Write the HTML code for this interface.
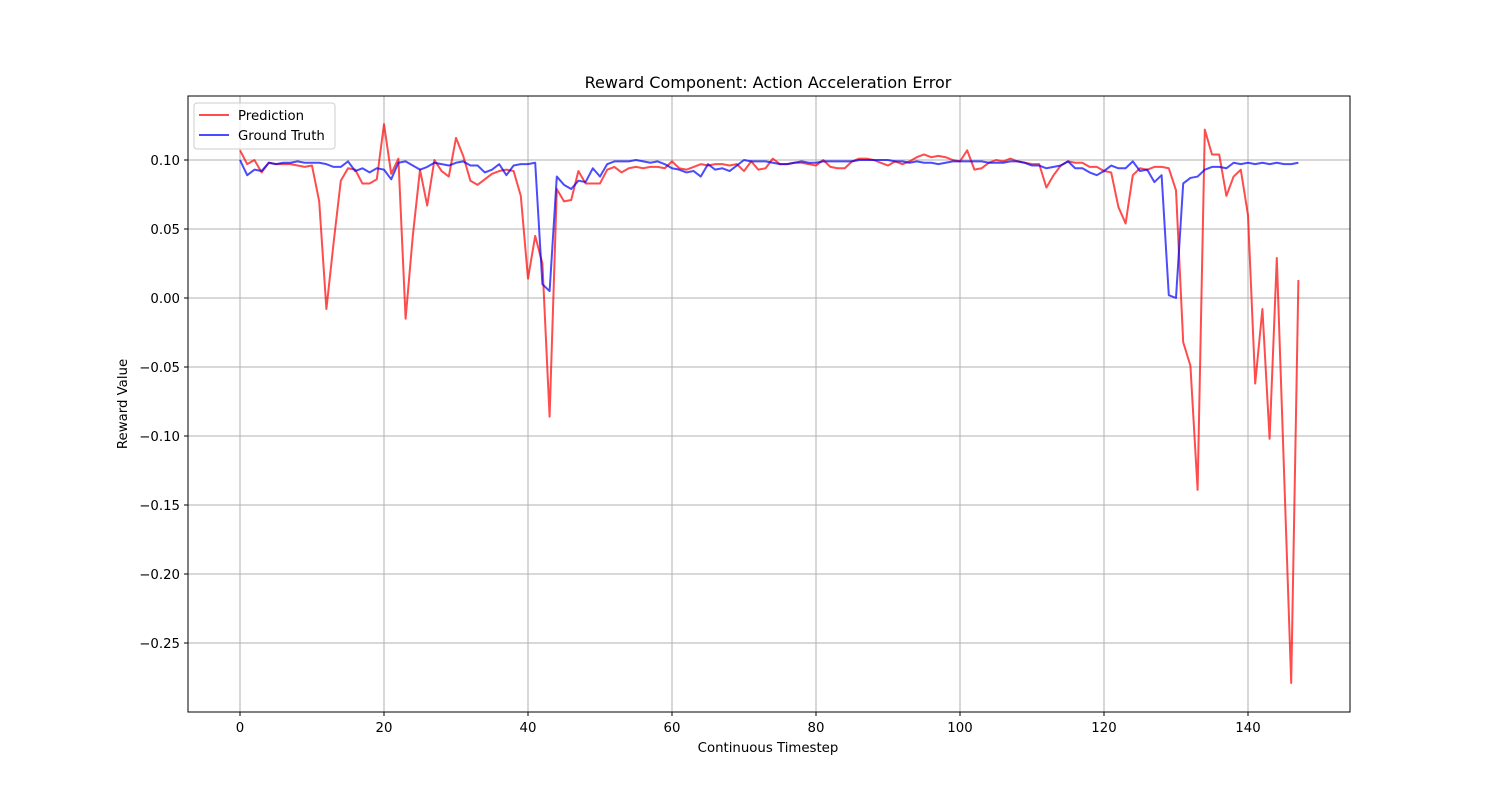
<!DOCTYPE html>
<html><head><meta charset="utf-8"><style>
body{margin:0;background:#fff}
svg{display:block;font-family:"DejaVu Sans","Liberation Sans",sans-serif}
</style></head><body>
<svg id="chart" width="1500" height="800">
<rect width="1500" height="800" fill="#fff"/>
<text x="768" y="88" font-size="16" text-anchor="middle">Reward Component: Action Acceleration Error</text>
<g id="grid"></g>
<g id="ticks"></g>
<g id="series"></g>
<rect x="188" y="96" width="1162" height="616" fill="none" stroke="#000" stroke-width="1"/>
<text x="768" y="752" font-size="13.3" text-anchor="middle">Continuous Timestep</text>
<text transform="translate(127,404) rotate(-90)" font-size="13.3" text-anchor="middle">Reward Value</text>
<g>
<rect x="194" y="103" width="141" height="46" rx="3" fill="#fff" fill-opacity="0.8" stroke="#ccc"/>
<line x1="199" y1="115" x2="229" y2="115" stroke="#ff0000" stroke-opacity="0.7" stroke-width="2"/>
<text x="238" y="120" font-size="13.3">Prediction</text>
<line x1="199" y1="135" x2="229" y2="135" stroke="#0000ff" stroke-opacity="0.7" stroke-width="2"/>
<text x="238" y="140" font-size="13.3">Ground Truth</text>
</g>
</svg>
<script>
const xTicks=[0,20,40,60,80,100,120,140];
const yTicks=[0.10,0.05,0.00,-0.05,-0.10,-0.15,-0.20,-0.25];
const yTickLabels=["0.10","0.05","0.00","\u22120.05","\u22120.10","\u22120.15","\u22120.20","\u22120.25"];
const prediction=[0.107,0.097,0.100,0.091,0.098,0.097,0.097,0.097,0.096,0.095,0.096,0.070,-0.008,0.040,0.085,0.094,0.093,0.083,0.083,0.086,
0.126,0.090,0.101,-0.015,0.045,0.093,0.067,0.100,0.092,0.088,0.116,0.103,0.085,0.082,0.086,0.090,0.092,0.093,0.092,0.074,
0.014,0.045,0.025,-0.086,0.079,0.070,0.071,0.092,0.083,0.083,0.083,0.093,0.095,0.091,0.094,0.095,0.094,0.095,0.095,0.094,
0.099,0.094,0.093,0.095,0.097,0.096,0.097,0.097,0.096,0.097,0.092,0.099,0.093,0.094,0.101,0.097,0.097,0.098,0.098,0.097,
0.096,0.100,0.095,0.094,0.094,0.099,0.101,0.101,0.100,0.098,0.096,0.099,0.097,0.099,0.102,0.104,0.102,0.103,0.102,0.100,
0.099,0.107,0.093,0.094,0.098,0.100,0.099,0.101,0.099,0.098,0.097,0.097,0.080,0.089,0.096,0.099,0.098,0.098,0.095,0.095,
0.092,0.091,0.066,0.054,0.089,0.094,0.093,0.095,0.095,0.094,0.078,-0.032,-0.049,-0.139,0.122,0.104,0.104,0.074,0.088,0.093,
0.060,-0.062,-0.008,-0.102,0.029,-0.125,-0.279,0.013];
const groundTruth=[0.100,0.089,0.093,0.092,0.098,0.097,0.098,0.098,0.099,0.098,0.098,0.098,0.097,0.095,0.095,0.099,0.092,0.094,0.091,0.094,
0.093,0.086,0.098,0.099,0.096,0.093,0.095,0.098,0.097,0.096,0.098,0.099,0.096,0.096,0.091,0.093,0.097,0.089,0.096,0.097,
0.097,0.098,0.010,0.005,0.088,0.082,0.079,0.085,0.084,0.094,0.088,0.097,0.099,0.099,0.099,0.100,0.099,0.098,0.099,0.097,
0.094,0.093,0.091,0.092,0.088,0.097,0.093,0.094,0.092,0.096,0.100,0.099,0.099,0.099,0.098,0.097,0.097,0.098,0.099,0.098,
0.098,0.099,0.099,0.099,0.099,0.099,0.100,0.100,0.100,0.100,0.100,0.099,0.099,0.098,0.099,0.098,0.098,0.097,0.098,0.099,
0.099,0.099,0.099,0.099,0.098,0.098,0.098,0.099,0.099,0.098,0.096,0.096,0.094,0.095,0.096,0.099,0.094,0.094,0.091,0.089,
0.092,0.096,0.094,0.094,0.099,0.092,0.093,0.084,0.089,0.002,0.000,0.083,0.087,0.088,0.093,0.095,0.095,0.094,0.098,0.097,
0.098,0.097,0.098,0.097,0.098,0.097,0.097,0.098];
const NS="http://www.w3.org/2000/svg";
const X=v=>240+v*7.2;
const Y=v=>298-v*1380;
const grid=document.getElementById('grid'),ticks=document.getElementById('ticks'),series=document.getElementById('series');
function mk(tag,attrs,parent){const e=document.createElementNS(NS,tag);for(const k in attrs)e.setAttribute(k,attrs[k]);parent.appendChild(e);return e;}
xTicks.forEach(t=>{
  const gl=mk('line',{x1:X(t),x2:X(t),y1:96,y2:712,stroke:'#b0b0b0','stroke-width':1},grid);
  
  
  mk('line',{x1:X(t),x2:X(t),y1:712,y2:716,stroke:'#000'},ticks);
  const tx=mk('text',{x:X(t),y:732,'font-size':13.3,'text-anchor':'middle'},ticks);
  tx.textContent=String(t);
  
  
});
yTicks.forEach((t,i)=>{
  const gl=mk('line',{x1:188,x2:1350,y1:Y(t),y2:Y(t),stroke:'#b0b0b0','stroke-width':1},grid);
  
  
  mk('line',{x1:184,x2:188,y1:Y(t),y2:Y(t),stroke:'#000'},ticks);
  const tx=mk('text',{x:180,y:Y(t)+5,'font-size':13.3,'text-anchor':'end'},ticks);
  tx.textContent=yTickLabels[i];
  
  
});
function line(data,color,name){
  const p=mk('polyline',{points:data.map((v,i)=>X(i)+','+Y(v)).join(' '),fill:'none',stroke:color,'stroke-opacity':0.7,'stroke-width':2,'stroke-linejoin':'round'},series);
  
  
}
line(prediction,'#ff0000','prediction-line');
line(groundTruth,'#0000ff','ground-truth-line');
</script>
</body></html>
